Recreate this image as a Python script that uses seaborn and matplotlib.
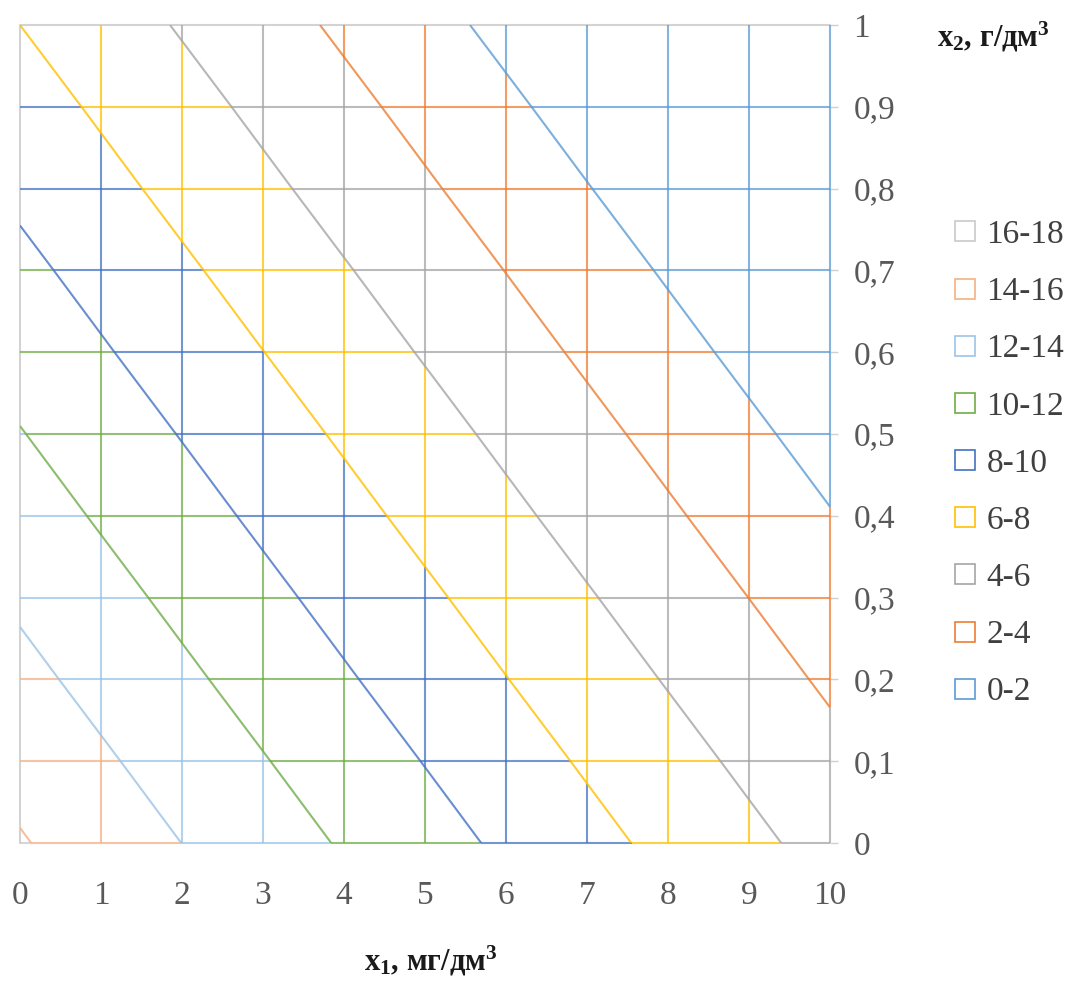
import numpy as np
import matplotlib.pyplot as plt
from matplotlib.collections import LineCollection
from matplotlib.lines import Line2D
import seaborn as sns

# grid of the surface (x1 across, x2 up)
x1 = [0, 1, 2, 3, 4, 5, 6, 7, 8, 9, 10]
x2 = [0.0, 0.1, 0.2, 0.3, 0.4, 0.5, 0.6, 0.7, 0.8, 0.9, 1.0]

# values, one row per x2
z_rows = [
    [16.15, 15.07, 13.99, 12.91, 11.83, 10.75, 9.67, 8.59, 7.51, 6.43, 5.35],
    [15.34, 14.26, 13.18, 12.10, 11.02, 9.94, 8.86, 7.78, 6.70, 5.62, 4.54],
    [14.52, 13.44, 12.36, 11.28, 10.20, 9.12, 8.04, 6.96, 5.88, 4.80, 3.72],
    [13.71, 12.63, 11.55, 10.47, 9.39, 8.31, 7.23, 6.15, 5.07, 3.99, 2.91],
    [12.89, 11.81, 10.73, 9.65, 8.57, 7.49, 6.41, 5.33, 4.25, 3.17, 2.09],
    [12.08, 11.00, 9.92, 8.84, 7.76, 6.68, 5.60, 4.52, 3.44, 2.36, 1.28],
    [11.26, 10.18, 9.10, 8.02, 6.94, 5.86, 4.78, 3.70, 2.62, 1.54, 0.46],
    [10.45, 9.37, 8.29, 7.21, 6.13, 5.05, 3.97, 2.89, 1.81, 0.73, 0.20],
    [9.63, 8.55, 7.47, 6.39, 5.31, 4.23, 3.15, 2.07, 0.99, 0.30, 0.10],
    [8.82, 7.74, 6.66, 5.58, 4.50, 3.42, 2.34, 1.26, 0.40, 0.15, 0.05],
    [8.00, 6.92, 5.84, 4.76, 3.68, 2.60, 1.52, 0.60, 0.20, 0.10, 0.05],
]

levels = [0, 2, 4, 6, 8, 10, 12, 14, 16, 18]
band_labels = ['0-2', '2-4', '4-6', '6-8', '8-10', '10-12', '12-14', '14-16', '16-18']
band_colors = ['#5B9BD5', '#ED7D31', '#A5A5A5', '#FFC000', '#4472C4',
               '#70AD47', '#9DC3E6', '#F4B183', '#C9C9C9']

sns.set_theme(style="white")
plt.rcParams['font.family'] = ['Liberation Serif', 'DejaVu Serif']
plt.rcParams['mathtext.default'] = 'regular'

Z = np.array(z_rows)
lev = np.array(levels)

W, H = 1088, 986
fig = plt.figure(figsize=(W / 100, H / 100), dpi=100)
ax = fig.add_axes([20 / W, (H - 843) / H, 810 / W, 818 / H])


def band_segments(pos, vals, other, horizontal):
    # cut one grid line into small pieces coloured by band
    t = np.linspace(pos[0], pos[-1], 1201)
    z = np.interp(t, pos, vals)
    zm = (z[:-1] + z[1:]) / 2
    idx = np.clip(np.digitize(zm, lev) - 1, 0, len(band_colors) - 1)
    if horizontal:
        pts = np.column_stack([t, np.full_like(t, other)])
    else:
        pts = np.column_stack([np.full_like(t, other), t])
    segs = np.stack([pts[:-1], pts[1:]], axis=1)
    cols = [band_colors[i] for i in idx]
    return segs, cols


all_segs, all_cols = [], []
for j in range(len(x2) - 1):  # top edge is the plain border
    s, c = band_segments(x1, Z[j], x2[j], True)
    all_segs.append(s)
    all_cols += c
for i in range(1, len(x1)):  # left edge is the plain border
    s, c = band_segments(x2, Z[:, i], x1[i], False)
    all_segs.append(s)
    all_cols += c

lc = LineCollection(np.concatenate(all_segs), colors=all_cols, linewidths=1.5,
                    alpha=0.75, clip_on=False, zorder=2)
ax.add_collection(lc)

# contour lines, each drawn in the colour of the band below it
ax.contour(x1, x2, Z, levels=levels[1:-1], colors=band_colors[:8],
           linewidths=1.5, alpha=0.8, zorder=3)

# plot border on the left and top
ax.plot([0, 0, 10], [0, 1, 1], color='#D3D3D3', lw=1.5, clip_on=False, zorder=1)

ax.set_xlim(0, 10)
ax.set_ylim(0, 1)
sns.despine(ax=ax, left=True, bottom=True, right=True, top=True)
ax.grid(False)

ax.set_xticks(x1)
ax.set_xticklabels([str(v) for v in x1])
ax.set_yticks(x2)
ax.set_yticklabels(['{:g}'.format(v).replace('.', ',') for v in x2])
ax.yaxis.tick_right()
ax.tick_params(axis='both', which='both', direction='out', length=6, width=1,
               color='#D0D0D0', labelcolor='#595959', labelsize=24)
ax.tick_params(axis='y', pad=11)
ax.tick_params(axis='x', pad=21)

fig.text(431 / W, 1 - 971 / H, r'x$_1$, мг/дм$^3$', ha='center', va='baseline',
         fontsize=22, fontweight='bold', color='#1A1A1A')
fig.text(937 / W, 1 - 47 / H, r'x$_2$, г/дм$^3$', ha='left', va='baseline',
         fontsize=22, fontweight='bold', color='#1A1A1A')

handles = [Line2D([], [], ls='', marker='s', markersize=15, markerfacecolor='white',
                  markeredgecolor=c, markeredgewidth=1.2) for c in band_colors]
leg = fig.legend(handles[::-1], band_labels[::-1], loc='center left',
                 bbox_to_anchor=(948 / W, 1 - 463.5 / H), frameon=False,
                 fontsize=24, handletextpad=0.15, labelspacing=0.8, borderpad=0,
                 borderaxespad=0, handlelength=1.0, labelcolor='#404040')

fig.savefig('out.png', dpi=100, facecolor='white')
